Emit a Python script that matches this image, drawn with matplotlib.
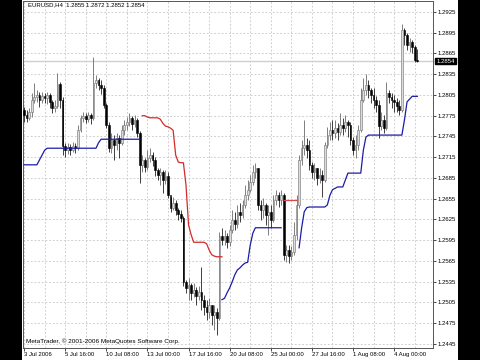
import numpy as np
import matplotlib
matplotlib.use('Agg')
import matplotlib.pyplot as plt
from matplotlib.patches import Rectangle

plt.rcParams['font.family'] = ['Liberation Sans', 'DejaVu Sans']

# ==========================================
# 数据 (EURUSD H4, 从图上读出)
# ==========================================
first_open = 1.2783
closes = [
    1.2776, 1.2772, 1.2780, 1.2798, 1.2802, 1.2805, 1.2798, 1.2804, 1.2801, 1.2805,
    1.2795, 1.2786, 1.2789, 1.2821, 1.2798, 1.2731, 1.2725, 1.2730, 1.2725, 1.2731,
    1.2728, 1.2754, 1.2772, 1.2775, 1.2770, 1.2776, 1.2772, 1.2822, 1.2827, 1.2819,
    1.2815, 1.2790, 1.2762, 1.2728, 1.2740, 1.2733, 1.2743, 1.2736, 1.2754, 1.2762,
    1.2766, 1.2772, 1.2763, 1.2769, 1.2750, 1.2704, 1.2711, 1.2701, 1.2714, 1.2718,
    1.2711, 1.2697, 1.2689, 1.2694, 1.2682, 1.2688, 1.2660, 1.2642, 1.2649, 1.2639,
    1.2633, 1.2627, 1.2535, 1.2526, 1.2530, 1.2519, 1.2523, 1.2514, 1.2520, 1.2509,
    1.2498, 1.2491, 1.2501, 1.2487, 1.2491, 1.2483, 1.2601, 1.2595, 1.2601, 1.2592,
    1.2610, 1.2624, 1.2618, 1.2636, 1.2632, 1.2646, 1.2660, 1.2668, 1.2679, 1.2694,
    1.2699, 1.2646, 1.2639, 1.2646, 1.2632, 1.2636, 1.2624, 1.2653, 1.2660, 1.2653,
    1.2660, 1.2574, 1.2581, 1.2572, 1.2578, 1.2603, 1.2646, 1.2711, 1.2728, 1.2733,
    1.2725, 1.2704, 1.2694, 1.2699, 1.2685, 1.2689, 1.2682, 1.2733, 1.2747, 1.2754,
    1.2750, 1.2757, 1.2751, 1.2762, 1.2757, 1.2766, 1.2762, 1.2740, 1.2725, 1.2733,
    1.2754, 1.2798, 1.2812, 1.2819, 1.2812, 1.2805, 1.2798, 1.2790, 1.2760, 1.2769,
    1.2757, 1.2808, 1.2802, 1.2798, 1.2795, 1.2789, 1.2783, 1.2899, 1.2892, 1.2877,
    1.2882, 1.2874, 1.2855, 1.2854,
]
highs = [
    1.2788, 1.2783, 1.2786, 1.2808, 1.2822, 1.2812, 1.2809, 1.2809, 1.2808, 1.2809,
    1.2808, 1.2798, 1.2798, 1.2837, 1.2824, 1.2802, 1.2736, 1.2736, 1.2734, 1.2737,
    1.2736, 1.2762, 1.2776, 1.2780, 1.2779, 1.2780, 1.2779, 1.2860, 1.2834, 1.2830,
    1.2827, 1.2819, 1.2793, 1.2766, 1.2750, 1.2747, 1.2750, 1.2747, 1.2762, 1.2769,
    1.2773, 1.2779, 1.2775, 1.2776, 1.2772, 1.2753, 1.2718, 1.2714, 1.2725, 1.2728,
    1.2723, 1.2715, 1.2699, 1.2699, 1.2697, 1.2697, 1.2694, 1.2658, 1.2658, 1.2653,
    1.2642, 1.2639, 1.2630, 1.2538, 1.2540, 1.2533, 1.2533, 1.2527, 1.2529, 1.2556,
    1.2516, 1.2509, 1.2511, 1.2501, 1.2501, 1.2497, 1.2607, 1.2613, 1.2610, 1.2605,
    1.2617, 1.2639, 1.2636, 1.2646, 1.2649, 1.2653, 1.2675, 1.2682, 1.2689, 1.2704,
    1.2707, 1.2699, 1.2653, 1.2656, 1.2649, 1.2646, 1.2646, 1.2660, 1.2668, 1.2665,
    1.2668, 1.2663, 1.2588, 1.2588, 1.2587, 1.2621, 1.2660, 1.2718, 1.2740, 1.2769,
    1.2743, 1.2740, 1.2708, 1.2707, 1.2699, 1.2699, 1.2697, 1.2737, 1.2759, 1.2766,
    1.2769, 1.2769, 1.2764, 1.2779, 1.2772, 1.2776, 1.2769, 1.2766, 1.2744, 1.2747,
    1.2762, 1.2815, 1.2830, 1.2835, 1.2827, 1.2815, 1.2815, 1.2804, 1.2798, 1.2780,
    1.2776, 1.2824, 1.2812, 1.2808, 1.2805, 1.2801, 1.2798, 1.2908, 1.2902, 1.2895,
    1.2887, 1.2885, 1.2877, 1.2872,
]
lows = [
    1.2766, 1.2766, 1.2769, 1.2773, 1.2793, 1.2795, 1.2788, 1.2793, 1.2793, 1.2792,
    1.2786, 1.2779, 1.2780, 1.2786, 1.2786, 1.2718, 1.2715, 1.2720, 1.2718, 1.2723,
    1.2721, 1.2725, 1.2751, 1.2766, 1.2764, 1.2766, 1.2763, 1.2769, 1.2815, 1.2812,
    1.2806, 1.2786, 1.2757, 1.2723, 1.2721, 1.2711, 1.2725, 1.2714, 1.2733, 1.2747,
    1.2754, 1.2760, 1.2754, 1.2759, 1.2744, 1.2678, 1.2694, 1.2694, 1.2697, 1.2708,
    1.2702, 1.2688, 1.2682, 1.2675, 1.2663, 1.2676, 1.2656, 1.2636, 1.2639, 1.2632,
    1.2624, 1.2621, 1.2529, 1.2519, 1.2509, 1.2509, 1.2513, 1.2501, 1.2509, 1.2494,
    1.2487, 1.2479, 1.2483, 1.2472, 1.2465, 1.2458, 1.2479, 1.2588, 1.2588, 1.2584,
    1.2587, 1.2605, 1.2610, 1.2613, 1.2621, 1.2627, 1.2642, 1.2653, 1.2665, 1.2675,
    1.2685, 1.2639, 1.2624, 1.2627, 1.2617, 1.2603, 1.2613, 1.2621, 1.2646, 1.2643,
    1.2646, 1.2566, 1.2563, 1.2562, 1.2566, 1.2574, 1.2595, 1.2642, 1.2704, 1.2718,
    1.2714, 1.2697, 1.2685, 1.2682, 1.2675, 1.2678, 1.2658, 1.2679, 1.2728, 1.2740,
    1.2740, 1.2743, 1.2740, 1.2747, 1.2747, 1.2751, 1.2744, 1.2733, 1.2718, 1.2714,
    1.2725, 1.2751, 1.2795, 1.2805, 1.2801, 1.2793, 1.2786, 1.2780, 1.2743, 1.2754,
    1.2750, 1.2754, 1.2793, 1.2786, 1.2780, 1.2780, 1.2776, 1.2780, 1.2877, 1.2870,
    1.2867, 1.2866, 1.2853, 1.2852,
]

# 趋势止损线 (蓝 = 多头, 红 = 空头)
up1_start = 0
up1 = [1.2704] * 6 + [1.2711, 1.2718, 1.2725] + [1.2728] * 20 + [1.2736] + [1.2741] * 16
down1_start = 46
down1 = [1.2775, 1.2775, 1.2773] + [1.2772] * 4 + [1.2770, 1.2764, 1.2760, 1.2759, 1.2757,
         1.2754, 1.2718, 1.2708, 1.2707, 1.2707, 1.2675, 1.2617, 1.2603] + [1.2592] * 5 + \
        [1.2590, 1.2581, 1.2574, 1.2572, 1.2571, 1.2571, 1.2571]
up2_start = 77
up2 = [1.2509, 1.2511, 1.2519, 1.2526, 1.2535, 1.2545, 1.2552, 1.2555, 1.2559, 1.2562,
       1.2563, 1.2588, 1.2605] + [1.2613] * 11
down2_start = 101
down2 = [1.2653] * 6
up3_start = 107
up3 = [1.2584, 1.2613, 1.2636, 1.2642] + [1.2643] * 7 + [1.2646, 1.2660, 1.2668, 1.2670] + \
      [1.2672] * 3 + [1.2682] + [1.2692] * 6 + [1.2725, 1.2744] + [1.2747] * 14 + \
      [1.2769, 1.2795, 1.2799] + [1.2803] * 3

bid = 1.2854
price_ticks = [1.2445, 1.2475, 1.2505, 1.2535, 1.2565, 1.2595, 1.2625, 1.2655, 1.2685,
               1.2715, 1.2745, 1.2775, 1.2805, 1.2835, 1.2865, 1.2895, 1.2925]
date_bars = [0, 16, 32, 48, 64, 80, 96, 112, 128, 144]
date_labels = ['3 Jul 2006', '5 Jul 16:00', '10 Jul 08:00', '13 Jul 00:00', '17 Jul 16:00',
               '20 Jul 08:00', '25 Jul 00:00', '27 Jul 16:00', '1 Aug 08:00', '4 Aug 00:00']
header = 'EURUSD,H4  1.2855 1.2872 1.2852 1.2854'
copyright_txt = 'MetaTrader, \u00a9 2001-2006 MetaQuotes Software Corp.'

# ==========================================
# 绘图
# ==========================================
fs = 4.3
fig = plt.figure(figsize=(4.8, 3.6), dpi=100, facecolor='black')
fig.patches.append(Rectangle((22 / 480, 0), 436 / 480, 1, transform=fig.transFigure,
                             facecolor='white', edgecolor='none', zorder=-1))
ax = fig.add_axes([23 / 480, 12 / 360, 410 / 480, 347 / 360])
ax.set_facecolor('white')

closes = np.array(closes)
highs = np.array(highs)
lows = np.array(lows)
opens = np.concatenate([[first_open], closes[:-1]])
idx = np.arange(len(closes))

# 网格
ax.set_yticks(price_ticks)
ax.set_yticklabels([f'{p:.4f}' for p in price_ticks])
ax.set_xticks(date_bars)
ax.set_xticklabels(date_labels, ha='left')
ax.set_xticks(np.arange(8, 160, 8), minor=True)
grid_kw = dict(color='#c8c8c8', linestyle=(0, (2.2, 2.2)), linewidth=0.6)
ax.grid(True, axis='y', which='major', **grid_kw)
ax.grid(True, axis='x', which='both', **grid_kw)
ax.set_axisbelow(True)

ax.axhline(bid, color='#d0d0d0', lw=1.0, zorder=1)

# K 线
bull = closes >= opens
body_lo = np.minimum(opens, closes)
body_h = np.maximum(np.abs(closes - opens), 0.00006)
ax.vlines(idx[bull], lows[bull], highs[bull], color='#6a6a6a', lw=0.6, zorder=2)
ax.vlines(idx[~bull], lows[~bull], highs[~bull], color='#202020', lw=0.6, zorder=2)
ax.bar(idx[bull], body_h[bull], bottom=body_lo[bull], width=0.66,
       color='#dcdcdc', edgecolor='#7a7a7a', lw=0.45, zorder=3)
ax.bar(idx[~bull], body_h[~bull], bottom=body_lo[~bull], width=0.66,
       color='black', edgecolor='black', lw=0.4, zorder=3)

# 止损线
for start, vals, col in [(up1_start, up1, '#1c1ca8'), (down1_start, down1, '#d42a2a'),
                         (up2_start, up2, '#1c1ca8'), (down2_start, down2, '#d94a4a'),
                         (up3_start, up3, '#1c1ca8')]:
    ax.plot(np.arange(start, start + len(vals)), vals, color=col, lw=0.9, zorder=4)

ax.set_xlim(-0.4, 159.1)
ax.set_ylim(1.24391, 1.29409)

ax.yaxis.tick_right()
ax.tick_params(axis='y', length=2, width=0.5, pad=1.5, labelsize=fs, colors='black')
ax.tick_params(axis='x', which='major', length=2, width=0.5, pad=1.0, labelsize=fs)
ax.tick_params(axis='x', which='minor', length=0)
for s in ax.spines.values():
    s.set_color('#555555')
    s.set_linewidth(0.7)

ax.text(1.5, 1.2936, header, fontsize=fs, va='center', ha='left', zorder=5)
ax.text(0.6, 1.2449, copyright_txt, fontsize=4.6, va='center', ha='left', zorder=5)
ax.text(1.008, bid, f'{bid:.4f}', transform=ax.get_yaxis_transform(), fontsize=fs,
        color='white', va='center', ha='left',
        bbox=dict(boxstyle='square,pad=0.15', facecolor='black', edgecolor='black'))

fig.savefig('out.png', dpi=100, facecolor='black')
